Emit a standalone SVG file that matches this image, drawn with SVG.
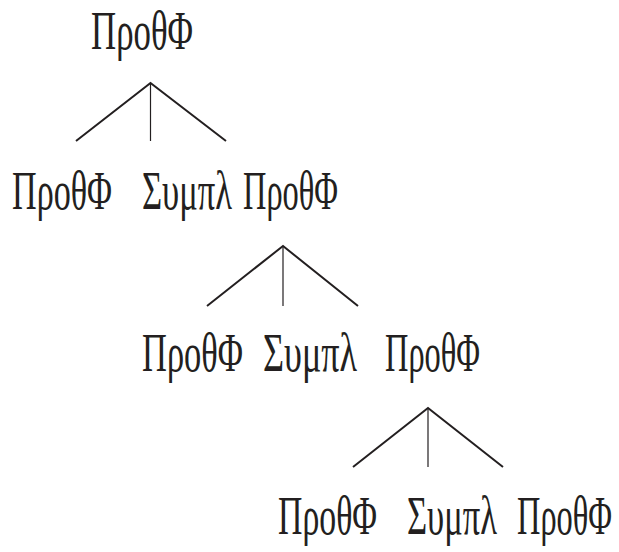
<svg xmlns="http://www.w3.org/2000/svg" width="619" height="552" viewBox="0 0 619 552">
<style>
text{font-family:"Liberation Serif","DejaVu Serif",serif;font-size:55px;fill:#231f20}
.e{stroke:#231f20;stroke-width:2;fill:none}
.v{stroke:#231f20;stroke-width:1.2;fill:none}
</style>
<rect width="619" height="552" fill="#fff"/>
<g id="connectors">
<path class="e" d="M76,141 L150.5,83 L226,141"/>
<path class="v" d="M150.5,83 V141"/>
<path class="e" d="M207,306 L283,246 L358,306"/>
<path class="v" d="M283,246 V306"/>
<path class="e" d="M353,467 L428,408 L503,467"/>
<path class="v" d="M428,408 V467"/>
</g>
<g id="n0"><text transform="translate(91,48.5) scale(0.6,1)" textLength="170" lengthAdjust="spacingAndGlyphs">ΠροθΦ</text></g>
<g id="n1"><text transform="translate(12,209) scale(0.6,1)" textLength="166.7" lengthAdjust="spacingAndGlyphs">ΠροθΦ</text></g>
<g id="n2"><text transform="translate(142,209) scale(0.6,1)" textLength="150" lengthAdjust="spacingAndGlyphs">Συμπλ</text></g>
<g id="n3"><text transform="translate(243,209) scale(0.6,1)" textLength="158.3" lengthAdjust="spacingAndGlyphs">ΠροθΦ</text></g>
<g id="n4"><text transform="translate(142,371) scale(0.6,1)" textLength="168.3" lengthAdjust="spacingAndGlyphs">ΠροθΦ</text></g>
<g id="n5"><text transform="translate(263,371) scale(0.6,1)" textLength="156.7" lengthAdjust="spacingAndGlyphs">Συμπλ</text></g>
<g id="n6"><text transform="translate(385,371) scale(0.6,1)" textLength="158.3" lengthAdjust="spacingAndGlyphs">ΠροθΦ</text></g>
<g id="n7"><text transform="translate(278,534) scale(0.6,1)" textLength="165" lengthAdjust="spacingAndGlyphs">ΠροθΦ</text></g>
<g id="n8"><text transform="translate(407,534) scale(0.6,1)" textLength="150" lengthAdjust="spacingAndGlyphs">Συμπλ</text></g>
<g id="n9"><text transform="translate(517,534) scale(0.6,1)" textLength="158.3" lengthAdjust="spacingAndGlyphs">ΠροθΦ</text></g>
</svg>
